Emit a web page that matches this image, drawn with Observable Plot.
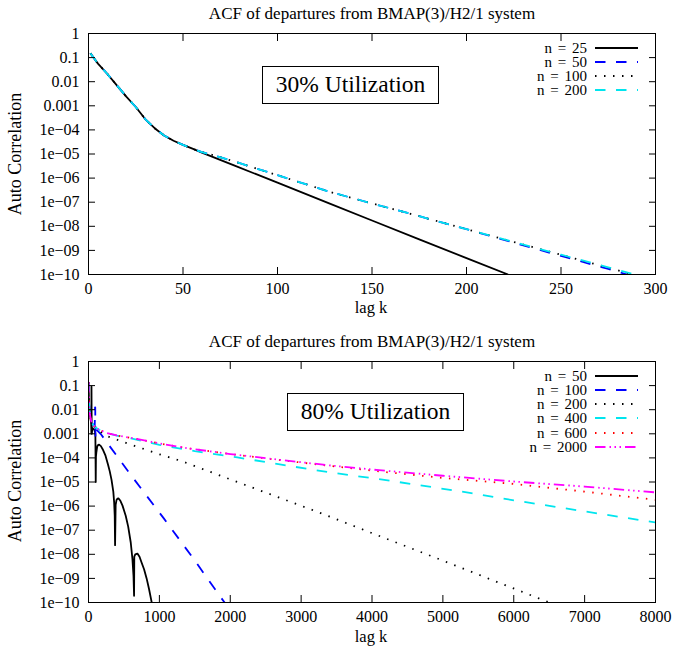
<!DOCTYPE html>
<html><head><meta charset="utf-8">
<script src="https://cdn.jsdelivr.net/npm/d3@7"></script>
<script src="https://cdn.jsdelivr.net/npm/@observablehq/plot@0.6"></script>
<style>
body{margin:0;background:#fff;color:#000;font-family:"Liberation Serif","Times New Roman",serif}
#wrap{position:relative;width:676px;height:649px;overflow:hidden;background:#fff}
.abs{position:absolute;white-space:nowrap;line-height:1}
svg.chart{position:absolute;left:0}
</style></head><body><div id="wrap"></div>
<script>
// ---------- text ----------
const chartTitle = "ACF of departures from BMAP(3)/H2/1 system";
const xLabel = "lag k";
const yLabel = "Auto Correlation";
const topBoxLabel = "30% Utilization";
const bottomBoxLabel = "80% Utilization";

// ---------- ticks ----------
const yTicks = [1, 1e-1, 1e-2, 1e-3, 1e-4, 1e-5, 1e-6, 1e-7, 1e-8, 1e-9, 1e-10];
const yTickLabels = ["1", "0.1", "0.01", "0.001", "1e\u221204", "1e\u221205", "1e\u221206", "1e\u221207", "1e\u221208", "1e\u221209", "1e\u221210"];
const topXTicks = [0, 50, 100, 150, 200, 250, 300];
const bottomXTicks = [0, 1000, 2000, 3000, 4000, 5000, 6000, 7000, 8000];

// ---------- top chart (30% utilization): log10 of ACF ----------
const topHeadLag = [1, 5, 10, 15, 20, 25, 30, 35, 40, 45, 50, 55];
const topHeadLog = [-0.82, -1.25, -1.68, -2.15, -2.62, -3.05, -3.55, -3.93, -4.23, -4.45, -4.62, -4.78];
const topN25Lag = [60, 77, 100, 128, 150, 175, 200, 222];
const topN25Log = [-4.94, -5.47, -6.19, -7.07, -7.76, -8.54, -9.32, -10.0];
const topN50Lag = [60, 70, 80, 100, 128, 150, 175, 200, 225, 250, 275, 285];
const topN50Log = [-4.92, -5.14, -5.38, -5.88, -6.58, -7.05, -7.58, -8.12, -8.68, -9.23, -9.77, -10.0];
const topN100Lag = [60, 70, 80, 100, 128, 150, 175, 200, 225, 250, 275, 288];
const topN100Log = [-4.92, -5.14, -5.38, -5.88, -6.58, -7.05, -7.58, -8.12, -8.65, -9.18, -9.72, -10.0];
const topN200Lag = [60, 70, 80, 100, 128, 150, 175, 200, 225, 250, 275, 289];
const topN200Log = [-4.92, -5.14, -5.38, -5.88, -6.58, -7.05, -7.58, -8.12, -8.65, -9.18, -9.70, -10.0];
const topSeriesNames = ["n = 25", "n = 50", "n = 100", "n = 200"];

// ---------- bottom chart (80% utilization): log10 of |ACF| ----------
const botHeadLag = [1, 5, 10, 20, 40, 70];
const botHeadLog = [-0.85, -1.5, -1.85, -2.2, -2.5, -2.65];
const botN50Lag = [1, 5, 10, 20, 30, 38, 41, 42, 44, 47, 55, 70, 85, 97, 102, 105, 110, 120, 130, 150, 175, 200, 240, 275, 300, 325, 350, 362, 370, 375, 383, 395, 410, 422, 450, 480, 525, 560, 596, 620, 635, 643, 646, 660, 690, 720, 750, 784, 820, 854, 892];
const botN50Log = [-0.85, -1.5, -1.85, -2.2, -2.4, -2.6, -3.0, -1.04, -2.3, -3.0, -2.75, -2.8, -2.85, -3.0, -5.0, -3.95, -3.79, -3.58, -3.48, -3.45, -3.51, -3.64, -3.91, -4.27, -4.56, -4.91, -5.40, -5.85, -6.4, -7.62, -5.95, -5.75, -5.69, -5.68, -5.78, -5.98, -6.40, -6.85, -7.51, -8.2, -8.9, -9.72, -8.1, -8.0, -7.97, -8.1, -8.35, -8.62, -9.0, -9.44, -10.0];
const botN100Lag = [88, 92, 95, 98, 103, 173, 600, 1065, 1500, 1840, 1920];
const botN100Log = [-2.7, -1.9, -1.9, -3.15, -2.8, -3.01, -4.72, -6.52, -8.26, -9.68, -10.0];
const botN200Lag = [100, 150, 200, 244, 500, 1000, 1300, 2100, 3131, 3413, 4200, 5008, 6441, 6500];
const botN200Log = [-2.74, -2.88, -2.98, -3.08, -3.35, -3.85, -4.12, -5.0, -6.13, -6.45, -7.35, -8.27, -9.93, -10.0];
const botN400Lag = [100, 150, 250, 400, 600, 1000, 1500, 2100, 2700, 3400, 4100, 5400, 6000, 7000, 8000];
const botN400Log = [-2.74, -2.83, -2.96, -3.08, -3.19, -3.46, -3.72, -3.98, -4.27, -4.60, -4.88, -5.46, -5.76, -6.22, -6.68];
const botN600Lag = [100, 150, 250, 400, 600, 1000, 1400, 2000, 2700, 3400, 4100, 5000, 6000, 7000, 8000];
const botN600Log = [-2.74, -2.83, -2.96, -3.07, -3.17, -3.40, -3.60, -3.84, -4.09, -4.33, -4.56, -4.83, -5.08, -5.40, -5.74];
const botN2000Lag = [100, 150, 250, 400, 600, 1000, 1400, 2000, 2700, 3400, 4100, 5000, 5500, 6000, 7000, 8000];
const botN2000Log = [-2.74, -2.83, -2.96, -3.07, -3.17, -3.40, -3.60, -3.84, -4.08, -4.31, -4.51, -4.74, -4.86, -4.98, -5.19, -5.43];
const botSeriesNames = ["n = 50", "n = 100", "n = 200", "n = 400", "n = 600", "n = 2000"];

// ---------- styles ----------
const topColors = ["#000000", "#0000ff", "#000000", "#00e5ee"];
const topDashes = [null, "10.5,10.5", "1.5,7.5", "10.5,10.5"];
const botColors = ["#000000", "#0000ff", "#000000", "#00e5ee", "#ff0000", "#ff00ff"];
const botDashes = [null, "10.5,10.5", "1.5,7.5", "10.5,10.5", "1.5,7.5", "10.5,4,1.5,3.5,1.5,3.5,1.5,4"];

function rows(lags, logs) { return lags.map((x, i) => ({lag: x, acf: Math.pow(10, logs[i])})); }

const topSeries = [
  rows(topHeadLag.concat(topN25Lag), topHeadLog.concat(topN25Log)),
  rows(topHeadLag.concat(topN50Lag), topHeadLog.concat(topN50Log)),
  rows(topHeadLag.concat(topN100Lag), topHeadLog.concat(topN100Log)),
  rows(topHeadLag.concat(topN200Lag), topHeadLog.concat(topN200Log))
];
const botSeries = [
  rows(botN50Lag, botN50Log),
  rows(botHeadLag.concat(botN100Lag), botHeadLog.concat(botN100Log)),
  rows(botHeadLag.concat(botN200Lag), botHeadLog.concat(botN200Log)),
  rows(botHeadLag.concat(botN400Lag), botHeadLog.concat(botN400Log)),
  rows(botHeadLag.concat(botN600Lag), botHeadLog.concat(botN600Log)),
  rows(botHeadLag.concat(botN2000Lag), botHeadLog.concat(botN2000Log))
];

const tickLabelMap = new Map(yTicks.map((t, i) => [t, yTickLabels[i]]));

function makeChart({series, colors, dashes, xTicks, xDomain, height, marginTop, marginBottom}) {
  const lineMarks = series.map((data, i) => Plot.line(data, {
    x: "lag", y: "acf", stroke: colors[i], strokeWidth: 1.8,
    strokeDasharray: dashes[i] || undefined, strokeLinecap: "butt", strokeLinejoin: "round", clip: true
  }));
  return Plot.plot({
    width: 676, height, marginLeft: 88, marginRight: 21, marginTop, marginBottom,
    style: "font-family:'Liberation Serif','Times New Roman',serif;font-size:16px;color:#000;background:transparent;overflow:visible",
    x: {domain: xDomain},
    y: {type: "log", domain: [1e-10, 1]},
    marks: [
      ...lineMarks,
      Plot.frame({stroke: "#000", strokeWidth: 1}),
      Plot.axisX({anchor: "bottom", ticks: xTicks, tickSize: 0, tickPadding: 8, label: null, tickFormat: d => String(d), fill: "#000"}),
      Plot.axisX({anchor: "bottom", ticks: xTicks, tickSize: -7, tickFormat: () => "", label: null, stroke: "#000"}),
      Plot.axisX({anchor: "top", ticks: xTicks, tickSize: -7, tickFormat: () => "", label: null, stroke: "#000"}),
      Plot.axisY({anchor: "left", ticks: yTicks, tickSize: 0, tickPadding: 9, label: null, tickFormat: d => tickLabelMap.get(d), fill: "#000"}),
      Plot.axisY({anchor: "left", ticks: yTicks, tickSize: -7, tickFormat: () => "", label: null, stroke: "#000"}),
      Plot.axisY({anchor: "right", ticks: yTicks, tickSize: -7, tickFormat: () => "", label: null, stroke: "#000"})
    ]
  });
}

const wrap = document.getElementById("wrap");

const topChart = makeChart({series: topSeries, colors: topColors, dashes: topDashes, xTicks: topXTicks, xDomain: [0, 300], height: 322, marginTop: 33, marginBottom: 48});
topChart.classList.add("chart"); topChart.style.top = "0px"; topChart.style.position = "absolute";
wrap.appendChild(topChart);

const botChart = makeChart({series: botSeries, colors: botColors, dashes: botDashes, xTicks: bottomXTicks, xDomain: [0, 8000], height: 327, marginTop: 39, marginBottom: 47});
botChart.classList.add("chart"); botChart.style.top = "322px"; botChart.style.position = "absolute";
wrap.appendChild(botChart);

function centered(txt, cx, cy, size, rotate) {
  const d = document.createElement("div");
  d.className = "abs";
  d.textContent = txt;
  d.style.left = cx + "px"; d.style.top = cy + "px";
  d.style.fontSize = size + "px";
  d.style.transform = "translate(-50%,-50%)" + (rotate ? " rotate(" + rotate + "deg)" : "");
  wrap.appendChild(d);
}
function box(txt, left, top, w, h) {
  const d = document.createElement("div");
  d.className = "abs";
  d.textContent = txt;
  Object.assign(d.style, {left: left + "px", top: top + "px", width: w + "px", height: h + "px",
    border: "1px solid #000", boxSizing: "border-box", display: "flex", alignItems: "center",
    justifyContent: "center", fontSize: "23.5px", background: "#fff"});
  wrap.appendChild(d);
}
function legend(names, colors, dashes, rowCenters) {
  names.forEach((name, i) => {
    const cy = rowCenters[i];
    const t = document.createElement("div");
    t.className = "abs";
    t.textContent = name;
    Object.assign(t.style, {right: (676 - 587) + "px", top: (cy - 6.5) + "px", height: "13px", lineHeight: "13px", fontSize: "15px", wordSpacing: "2px", textAlign: "right"});
    wrap.appendChild(t);
    const s = document.createElementNS("http://www.w3.org/2000/svg", "svg");
    s.setAttribute("width", 44); s.setAttribute("height", 6);
    Object.assign(s.style, {position: "absolute", left: "595px", top: (cy - 3) + "px"});
    const l = document.createElementNS("http://www.w3.org/2000/svg", "line");
    l.setAttribute("x1", 0); l.setAttribute("x2", 43); l.setAttribute("y1", 3); l.setAttribute("y2", 3);
    l.setAttribute("stroke", colors[i]); l.setAttribute("stroke-width", 1.8);
    if (dashes[i]) l.setAttribute("stroke-dasharray", dashes[i]);
    s.appendChild(l);
    wrap.appendChild(s);
  });
}

centered(chartTitle, 372, 12.5, 17);
centered(chartTitle, 372, 341, 17);
centered(xLabel, 371, 308, 16.5);
centered(xLabel, 371, 637, 16.5);
centered(yLabel, 15, 153.5, 18, -90);
centered(yLabel, 15, 481, 18, -90);
box(topBoxLabel, 262, 66, 177, 38);
box(bottomBoxLabel, 287, 393, 177, 38);
legend(topSeriesNames, topColors, topDashes, [48, 62, 76, 90]);
legend(botSeriesNames, botColors, botDashes, [376, 390, 404, 418, 433, 447]);
</script></body></html>
